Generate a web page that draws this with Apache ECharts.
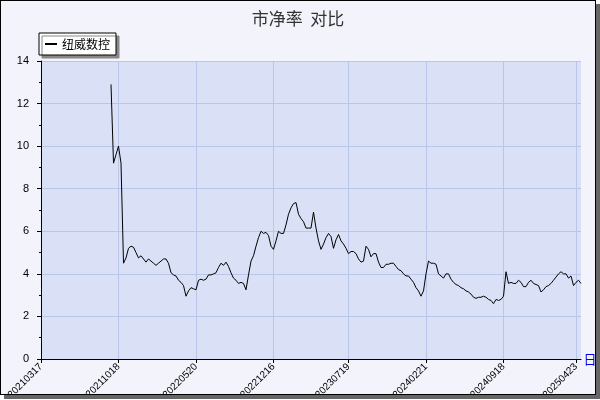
<!DOCTYPE html>
<html><head><meta charset="utf-8">
<script src="https://cdn.jsdelivr.net/npm/echarts@6/dist/echarts.min.js"></script>
<style>
html,body{margin:0;padding:0;background:#fff;}
#c{position:absolute;left:0;top:0;width:594px;height:393px;border:1px solid #000;box-shadow:4px 4px 0 #666;background:#f2f3fb;}
</style></head><body>
<div id="c"></div>
<script>
const startDate = '2021-03-17';
const firstDataWeek = 28;
const values = [12.9,9.2,9.6,10.0,9.2,4.5,4.75,5.2,5.3,5.25,5.0,4.75,4.85,4.7,4.55,4.7,4.6,4.5,4.4,4.5,4.6,4.7,4.7,4.5,4.05,3.95,3.9,3.7,3.6,3.45,2.95,3.2,3.35,3.3,3.25,3.7,3.75,3.7,3.75,3.95,3.95,4.0,4.05,4.3,4.5,4.4,4.55,4.35,4.05,3.8,3.7,3.55,3.6,3.55,3.25,3.95,4.6,4.85,5.3,5.7,6.0,5.9,5.95,5.8,5.3,5.15,5.55,6.0,5.9,5.9,6.3,6.8,7.1,7.3,7.35,6.8,6.6,6.45,6.15,6.15,6.15,6.9,6.15,5.55,5.15,5.4,5.7,5.9,5.75,5.2,5.6,5.85,5.55,5.4,5.2,4.95,5.05,5.05,4.95,4.7,4.55,4.6,5.3,5.15,4.8,4.95,4.95,4.55,4.3,4.3,4.45,4.45,4.5,4.5,4.35,4.2,4.15,4.0,3.9,3.9,3.75,3.6,3.35,3.2,2.95,3.2,4.0,4.6,4.5,4.5,4.45,4.0,3.9,3.8,4.0,4.0,3.75,3.6,3.5,3.45,3.35,3.3,3.2,3.15,3.05,2.9,2.85,2.9,2.9,2.95,2.9,2.8,2.75,2.6,2.8,2.75,2.8,2.95,4.1,3.55,3.6,3.55,3.55,3.7,3.6,3.4,3.4,3.6,3.7,3.55,3.5,3.45,3.15,3.25,3.4,3.45,3.55,3.7,3.85,4.0,4.1,4.0,4.0,3.8,3.9,3.45,3.6,3.7,3.55];
const tickLabels = ['20210317','20211018','20220520','20221216','20230719','20240221','20240918','20250423'];
const tickIdx = [0,31,62,93,123,154,185,214];
const seriesName = '纽威数控';

const nWeeks = firstDataWeek + values.length;
const cats = [];
const d0 = new Date(startDate + 'T00:00:00Z');
for (let k = 0; k < nWeeks; k++) {
  const d = new Date(d0.getTime() + k * 7 * 86400000);
  cats.push(d.toISOString().slice(0,10).replace(/-/g,''));
}
const data = new Array(firstDataWeek).fill(null).concat(values);
const isTick = (i) => tickIdx.indexOf(i) >= 0;

const chart = echarts.init(document.getElementById('c'));
chart.setOption({
  animation:false,
  title:{text:'市净率  对比',left:'center',top:4,textStyle:{fontSize:17,fontWeight:'normal',color:'#333',fontFamily:'Noto Sans CJK SC'}},
  legend:{left:38,top:32,orient:'vertical',backgroundColor:'#fff',borderColor:'#000',borderWidth:1,padding:[5,6],
    shadowColor:'#888',shadowOffsetX:3,shadowOffsetY:3,shadowBlur:0,
    itemWidth:12,itemHeight:2,icon:'rect',textStyle:{fontSize:12,color:'#000',fontFamily:'Noto Sans CJK SC'},data:[seriesName]},
  grid:{left:40,right:14,top:60,bottom:35,show:true,backgroundColor:'#dae1f6',borderWidth:0,outerBoundsMode:'none',containLabel:false},
  xAxis:{type:'category',data:cats,boundaryGap:false,
    name:'日期',nameLocation:'end',nameGap:-20,nameTextStyle:{color:'#0000ee',fontSize:13,padding:[40,0,0,0],fontFamily:'Noto Sans CJK SC'},
    axisLine:{lineStyle:{color:'#000'}},
    axisTick:{interval:(i)=>isTick(i),length:4,lineStyle:{color:'#000'}},
    axisLabel:{interval:(i)=>isTick(i),rotate:45,fontSize:10,color:'#000',margin:6,
      formatter:(v,i)=>tickLabels[tickIdx.indexOf(i)]},
    splitLine:{show:true,interval:(i)=>isTick(i),lineStyle:{color:'#b9c6ea'}}},
  yAxis:{type:'value',min:0,max:14,interval:2,
    axisLine:{show:true,lineStyle:{color:'#000'}},
    axisTick:{show:true,length:4,lineStyle:{color:'#000'}},
    minorTick:{show:true,splitNumber:2,length:2,lineStyle:{color:'#000'}},
    axisLabel:{fontSize:11,color:'#000',margin:12},
    splitLine:{lineStyle:{color:'#b9c6ea'}}},
  series:[{name:seriesName,type:'line',data:data,showSymbol:false,symbol:'none',
    lineStyle:{color:'#000',width:1},itemStyle:{color:'#000'}}]
});
</script></body></html>
